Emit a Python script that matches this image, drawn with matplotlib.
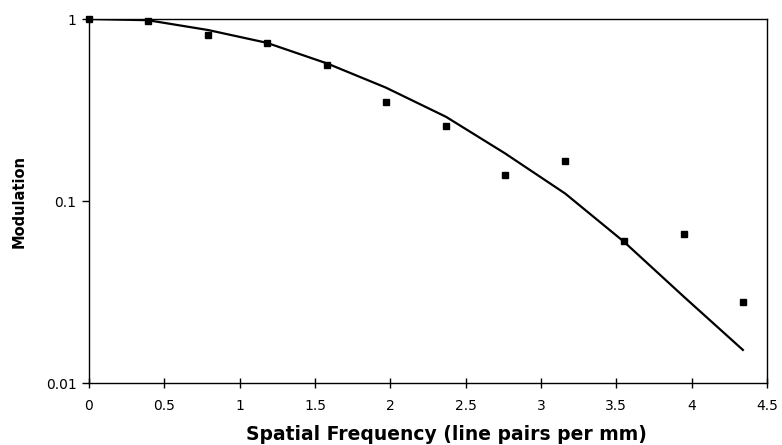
import matplotlib
matplotlib.use("Agg")
import matplotlib.pyplot as plt
from matplotlib.ticker import FixedLocator, FixedFormatter, NullLocator

# Data
freq = [0.0, 0.39, 0.79, 1.18, 1.58, 1.97, 2.37, 2.76, 3.16, 3.55, 3.95, 4.34]
measured = [1.0, 0.975, 0.817, 0.738, 0.559, 0.35, 0.258, 0.139, 0.166, 0.0603, 0.0659, 0.0279]
model = [1.0, 0.985, 0.87, 0.74, 0.57, 0.42, 0.29, 0.183, 0.11, 0.0598, 0.0297, 0.0152]

xticks = [0, 0.5, 1, 1.5, 2, 2.5, 3, 3.5, 4, 4.5]
xticklabels = ["0", "0.5", "1", "1.5", "2", "2.5", "3", "3.5", "4", "4.5"]
yticks = [0.01, 0.1, 1]
yticklabels = ["0.01", "0.1", "1"]

plt.rcParams['font.family'] = ['DejaVu Sans']

fig = plt.figure(figsize=(7.82, 4.45), dpi=100)
ax = fig.add_axes([0.1138, 0.1393, 0.9808 - 0.1138, 0.9573 - 0.1393])

ax.plot(freq, model, color='black', linewidth=1.6, zorder=2)
ax.plot(freq, measured, linestyle='none', marker='s', markersize=5,
        color='black', zorder=3, clip_on=False)

ax.set_yscale('log')
ax.set_xlim(0, 4.5)
ax.set_ylim(0.01, 1)

ax.xaxis.set_major_locator(FixedLocator(xticks))
ax.xaxis.set_major_formatter(FixedFormatter(xticklabels))
ax.yaxis.set_major_locator(FixedLocator(yticks))
ax.yaxis.set_major_formatter(FixedFormatter(yticklabels))
ax.yaxis.set_minor_locator(NullLocator())

ax.tick_params(axis='x', direction='inout', length=7, width=1, labelsize=10, pad=8)
ax.tick_params(axis='y', direction='out', length=5, width=1, labelsize=10, pad=4)

for s in ['left', 'bottom']:
    ax.spines[s].set_linewidth(1.0)
    ax.spines[s].set_color('black')
for s in ['top', 'right']:
    ax.spines[s].set_linestyle((0, (1, 1)))
    ax.spines[s].set_linewidth(1.0)
    ax.spines[s].set_color('black')

fig.text(446 / 782, 1 - 435 / 445, 'Spatial Frequency (line pairs per mm)',
         fontsize=13.5, fontweight='bold', ha='center', va='center')
ax.set_ylabel('Modulation', fontsize=10.5, fontweight='bold', labelpad=14)

fig.savefig('out.png', dpi=100)
